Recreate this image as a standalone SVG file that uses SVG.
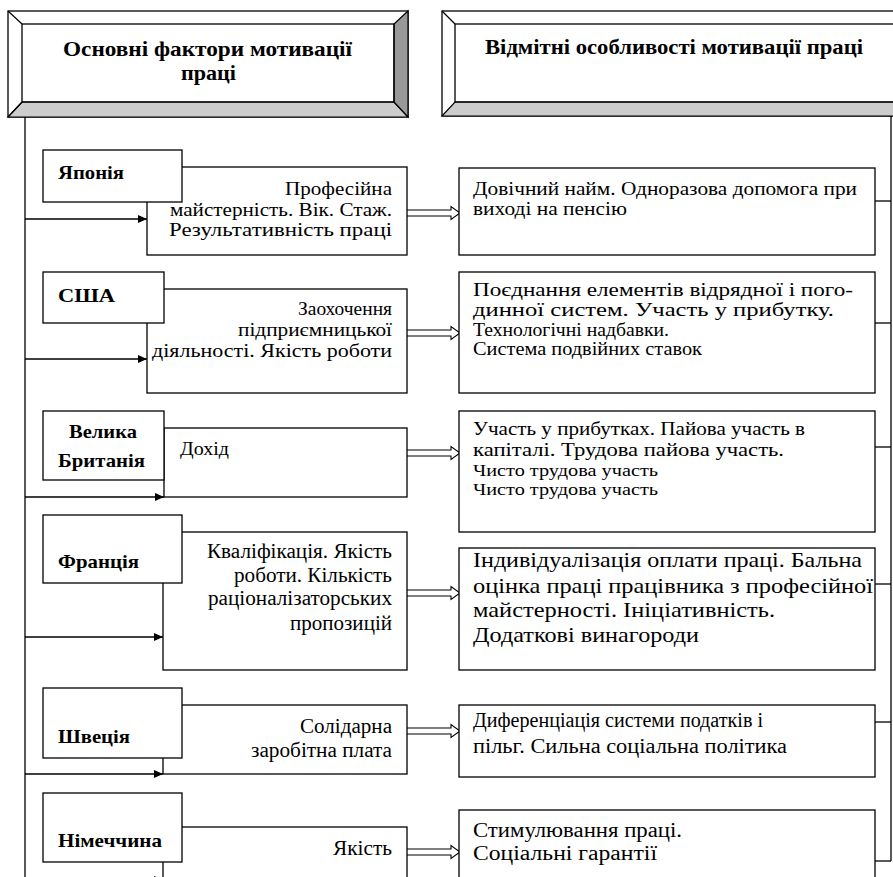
<svg xmlns="http://www.w3.org/2000/svg" width="893" height="877" viewBox="0 0 893 877">
<style>
.box{fill:#fff;stroke:#000;stroke-width:1.3}
.ln{fill:none;stroke:#000;stroke-width:1.3}
text{font-family:"Liberation Serif","Times New Roman",serif;fill:#000}
.b{font-size:19px;font-weight:bold}
.h{font-size:21px;font-weight:bold}
.f18{font-size:18px}
.f19{font-size:19px}
.f20{font-size:20px}
.f21{font-size:21px}
.f17{font-size:16.5px}
.ha{fill:#fff;stroke:#000;stroke-width:1.1}
</style>
<defs>
<marker id="ah" markerWidth="10" markerHeight="10" refX="9" refY="5" orient="auto" markerUnits="userSpaceOnUse">
<path d="M0,1 L9,5 L0,9 Z" fill="#000"/>
</marker>
</defs>
<rect width="893" height="877" fill="#fff"/>

<g id="header-left">
<rect x="8" y="11" width="400" height="106" fill="#fff" stroke="#000" stroke-width="1.3"/>
<polygon points="8,117 22,102 394,102 408,117" fill="#cccccc" stroke="#000" stroke-width="1.2"/>
<polygon points="408,11 394,24 394,102 408,117" fill="#999999" stroke="#000" stroke-width="1.2"/>
<line x1="8" y1="11" x2="22" y2="24" stroke="#000" stroke-width="1.2"/>
<line x1="8" y1="117" x2="22" y2="102" stroke="#000" stroke-width="1.2"/>
<rect x="22" y="24" width="372" height="78" fill="none" stroke="#000" stroke-width="1.3"/>
<text class="h" x="63" y="56" textLength="289" lengthAdjust="spacingAndGlyphs">Основні фактори мотивації</text>
<text class="h" x="181" y="80" textLength="55" lengthAdjust="spacingAndGlyphs">праці</text>
</g>

<g id="header-right">
<rect x="442" y="11" width="470" height="105" fill="#fff" stroke="#000" stroke-width="1.3"/>
<polygon points="442,116 455,102 905,102 910,116" fill="#cccccc" stroke="#000" stroke-width="1.2"/>
<line x1="442" y1="11" x2="455" y2="24" stroke="#000" stroke-width="1.2"/>
<rect x="455" y="24" width="450" height="78" fill="none" stroke="#000" stroke-width="1.3"/>
<text class="h" x="485" y="54" textLength="378" lengthAdjust="spacingAndGlyphs">Відмітні особливості мотивації праці</text>
</g>

<g id="connectors">
<line class="ln" x1="25" y1="117" x2="25" y2="877"/>
<line class="ln" x1="891" y1="116" x2="891" y2="861"/>
<line class="ln" x1="25" y1="219" x2="147" y2="219" marker-end="url(#ah)"/>
<line class="ln" x1="25" y1="359" x2="147" y2="359" marker-end="url(#ah)"/>
<line class="ln" x1="25" y1="497" x2="164" y2="497" marker-end="url(#ah)"/>
<line class="ln" x1="25" y1="637" x2="163" y2="637" marker-end="url(#ah)"/>
<line class="ln" x1="25" y1="774" x2="163" y2="774" marker-end="url(#ah)"/>
<line class="ln" x1="25" y1="880" x2="163" y2="880" marker-end="url(#ah)"/>
<line class="ln" x1="875" y1="201" x2="891" y2="201"/>
<line class="ln" x1="875" y1="323" x2="891" y2="323"/>
<line class="ln" x1="875" y1="447" x2="891" y2="447"/>
<line class="ln" x1="875" y1="584" x2="891" y2="584"/>
<line class="ln" x1="875" y1="722" x2="891" y2="722"/>
<line class="ln" x1="875" y1="861" x2="891" y2="861"/>
<path class="ha" d="M407,210 H451 V206.5 L460,213 L451,219.5 V216 H407"/>
<path class="ha" d="M407,330 H451 V326.5 L460,333 L451,339.5 V336 H407"/>
<path class="ha" d="M407,450 H451 V446.5 L460,453 L451,459.5 V456 H407"/>
<path class="ha" d="M407,590 H451 V586.5 L460,593 L451,599.5 V596 H407"/>
<path class="ha" d="M407,728 H451 V724.5 L460,731 L451,737.5 V734 H407"/>
<path class="ha" d="M407,849 H451 V845.5 L460,852 L451,858.5 V855 H407"/>
</g>

<g id="japan">
<rect class="box" x="147" y="167" width="260" height="88"/>
<rect class="box" x="43" y="150" width="139" height="52"/>
<text class="b" x="58" y="179" textLength="66" lengthAdjust="spacingAndGlyphs">Японія</text>
<text class="f18" x="285" y="195" textLength="107" lengthAdjust="spacingAndGlyphs">Професійна</text>
<text class="f18" x="170" y="216" textLength="222" lengthAdjust="spacingAndGlyphs">майстерність. Вік. Стаж.</text>
<text class="f18" x="169" y="236" textLength="223" lengthAdjust="spacingAndGlyphs">Результативність праці</text>
</g>
<g id="japan-features">
<rect class="box" x="459" y="168" width="416" height="87"/>
<text class="f19" x="473" y="195" textLength="384" lengthAdjust="spacingAndGlyphs">Довічний найм. Одноразова допомога при</text>
<text class="f19" x="473" y="215" textLength="154" lengthAdjust="spacingAndGlyphs">виході на пенсію</text>
</g>

<g id="usa">
<rect class="box" x="147" y="289" width="260" height="104"/>
<rect class="box" x="43" y="272" width="121" height="51"/>
<text class="b" x="58" y="302" textLength="57" lengthAdjust="spacingAndGlyphs">США</text>
<text class="f18" x="298" y="315" textLength="94" lengthAdjust="spacingAndGlyphs">Заохочення</text>
<text class="f18" x="238" y="336" textLength="154" lengthAdjust="spacingAndGlyphs">підприємницької</text>
<text class="f18" x="152" y="357" textLength="240" lengthAdjust="spacingAndGlyphs">діяльності. Якість роботи</text>
</g>
<g id="usa-features">
<rect class="box" x="459" y="272" width="416" height="121"/>
<text class="f19" x="473" y="296" textLength="380" lengthAdjust="spacingAndGlyphs">Поєднання елементів відрядної і пого-</text>
<text class="f19" x="473" y="316" textLength="361" lengthAdjust="spacingAndGlyphs">динної систем. Участь у прибутку.</text>
<text class="f18" x="473" y="336" textLength="196" lengthAdjust="spacingAndGlyphs">Технологічні надбавки.</text>
<text class="f18" x="473" y="355" textLength="229" lengthAdjust="spacingAndGlyphs">Система подвійних ставок</text>
</g>

<g id="britain">
<rect class="box" x="164" y="428" width="243" height="69"/>
<rect class="box" x="43" y="411" width="121" height="69"/>
<text class="b" x="69" y="438" textLength="68" lengthAdjust="spacingAndGlyphs">Велика</text>
<text class="b" x="58" y="467" textLength="87" lengthAdjust="spacingAndGlyphs">Британія</text>
<text class="f19" x="180" y="455" textLength="49" lengthAdjust="spacingAndGlyphs">Дохід</text>
</g>
<g id="britain-features">
<rect class="box" x="459" y="411" width="416" height="121"/>
<text class="f19" x="473" y="435" textLength="332" lengthAdjust="spacingAndGlyphs">Участь у прибутках. Пайова участь в</text>
<text class="f19" x="473" y="456" textLength="311" lengthAdjust="spacingAndGlyphs">капіталі. Трудова пайова участь.</text>
<text class="f17" x="473" y="476" textLength="185" lengthAdjust="spacingAndGlyphs">Чисто трудова участь</text>
<text class="f17" x="473" y="495" textLength="185" lengthAdjust="spacingAndGlyphs">Чисто трудова участь</text>
</g>

<g id="france">
<rect class="box" x="163" y="532" width="244" height="138"/>
<rect class="box" x="43" y="515" width="139" height="68"/>
<text class="b" x="58" y="568" textLength="81" lengthAdjust="spacingAndGlyphs">Франція</text>
<text class="f20" x="207" y="558" textLength="185" lengthAdjust="spacingAndGlyphs">Кваліфікація. Якість</text>
<text class="f20" x="234" y="582" textLength="158" lengthAdjust="spacingAndGlyphs">роботи. Кількість</text>
<text class="f20" x="208" y="605" textLength="184" lengthAdjust="spacingAndGlyphs">раціоналізаторських</text>
<text class="f20" x="290" y="630" textLength="102" lengthAdjust="spacingAndGlyphs">пропозицій</text>
</g>
<g id="france-features">
<rect class="box" x="459" y="548" width="416" height="122"/>
<text class="f21" x="473" y="567" textLength="389" lengthAdjust="spacingAndGlyphs">Індивідуалізація оплати праці. Бальна</text>
<text class="f21" x="473" y="593" textLength="400" lengthAdjust="spacingAndGlyphs">оцінка праці працівника з професійної</text>
<text class="f21" x="473" y="617" textLength="302" lengthAdjust="spacingAndGlyphs">майстерності. Ініціативність.</text>
<text class="f21" x="473" y="642" textLength="226" lengthAdjust="spacingAndGlyphs">Додаткові винагороди</text>
</g>

<g id="sweden">
<rect class="box" x="163" y="705" width="244" height="69"/>
<rect class="box" x="43" y="688" width="139" height="70"/>
<text class="b" x="58" y="743" textLength="72" lengthAdjust="spacingAndGlyphs">Швеція</text>
<text class="f20" x="300" y="733" textLength="92" lengthAdjust="spacingAndGlyphs">Солідарна</text>
<text class="f20" x="251" y="757" textLength="141" lengthAdjust="spacingAndGlyphs">заробітна плата</text>
</g>
<g id="sweden-features">
<rect class="box" x="459" y="705" width="416" height="72"/>
<text class="f20" x="473" y="727" textLength="290" lengthAdjust="spacingAndGlyphs">Диференціація системи податків і</text>
<text class="f20" x="473" y="753" textLength="314" lengthAdjust="spacingAndGlyphs">пільг. Сильна соціальна політика</text>
</g>

<g id="germany">
<rect class="box" x="163" y="827" width="244" height="80"/>
<rect class="box" x="43" y="793" width="139" height="69"/>
<text class="b" x="58" y="847" textLength="104" lengthAdjust="spacingAndGlyphs">Німеччина</text>
<text class="f20" x="333" y="855" textLength="59" lengthAdjust="spacingAndGlyphs">Якість</text>
</g>
<g id="germany-features">
<rect class="box" x="459" y="810" width="416" height="90"/>
<text class="f20" x="473" y="837" textLength="209" lengthAdjust="spacingAndGlyphs">Стимулювання праці.</text>
<text class="f20" x="473" y="860" textLength="184" lengthAdjust="spacingAndGlyphs">Соціальні гарантії</text>
</g>
</svg>
